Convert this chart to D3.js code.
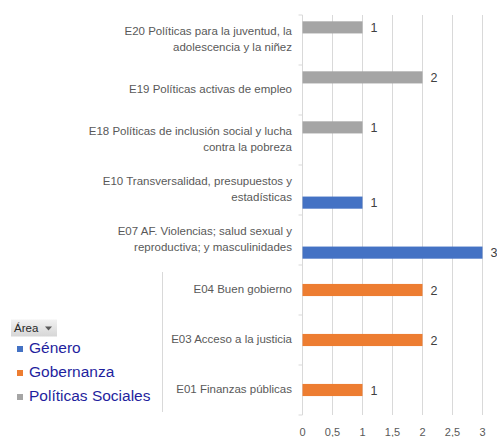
<!DOCTYPE html>
<html>
<head>
<meta charset="utf-8">
<script src="https://cdn.jsdelivr.net/npm/d3@7"></script>
<style>
  body { margin: 0; background: #fff; }
  svg { display: block; font-family: "Liberation Sans", Arial, sans-serif; }
</style>
</head>
<body>
<svg id="chart" width="497" height="437"></svg>
<script>
// categories top to bottom, label lines split by "|"
const categories = [
  "E20 Políticas para la juventud, la|adolescencia y  la niñez",
  "E19 Políticas activas de empleo",
  "E18 Políticas de inclusión social y lucha|contra la pobreza",
  "E10 Transversalidad, presupuestos y|estadísticas",
  "E07 AF. Violencias; salud sexual y|reproductiva; y masculinidades",
  "E04 Buen gobierno",
  "E03 Acceso a la justicia",
  "E01 Finanzas públicas"
];
const areaOf = ["Políticas Sociales", "Políticas Sociales", "Políticas Sociales",
  "Género", "Género", "Gobernanza", "Gobernanza", "Gobernanza"];
const values = [1, 2, 1, 1, 3, 2, 2, 1];
const series = ["Género", "Gobernanza", "Políticas Sociales"];
const seriesColors = ["#4472c4", "#ed7d31", "#a5a5a5"];
const xTicks = [0, 0.5, 1, 1.5, 2, 2.5, 3];

const svg = d3.select("#chart");

const x = d3.scaleLinear().domain([0, 3]).range([302.5, 482.5]);
const y = d3.scaleBand().domain(categories).range([15, 415]).padding(0);
// Excel puts series 1 at the bottom of each cluster
const sub = d3.scaleBand().domain(series.slice().reverse())
  .range([0, y.bandwidth()]).paddingOuter(0.5).paddingInner(0.04);
const color = d3.scaleOrdinal().domain(series).range(seriesColors);

// gridlines
svg.append("g")
  .selectAll("line")
  .data(xTicks.slice(1))
  .join("line")
  .attr("x1", d => x(d)).attr("x2", d => x(d))
  .attr("y1", 15).attr("y2", 415)
  .attr("stroke", "#d9d9d9")
  .attr("stroke-width", 1);

// x tick labels
svg.append("g")
  .selectAll("text")
  .data(xTicks)
  .join("text")
  .attr("x", d => x(d))
  .attr("y", 436)
  .attr("text-anchor", "middle")
  .attr("font-size", 11)
  .attr("fill", "#595959")
  .text(d => String(d).replace(".", ","));

// category axis line and boundary ticks
svg.append("line")
  .attr("x1", x(0)).attr("x2", x(0))
  .attr("y1", 15).attr("y2", 415)
  .attr("stroke", "#d9d9d9");
const bounds = categories.map(c => y(c)).concat([y.range()[1]]);
svg.append("g")
  .selectAll("line")
  .data(bounds)
  .join("line")
  .attr("x1", x(0) - 4).attr("x2", x(0))
  .attr("y1", d => d).attr("y2", d => d)
  .attr("stroke", "#d9d9d9");

// outer level separator next to the Gobernanza group
const gob = categories.filter((c, i) => areaOf[i] === "Gobernanza");
svg.append("line")
  .attr("x1", 162.5).attr("x2", 162.5)
  .attr("y1", y(gob[0]) + 7)
  .attr("y2", y(gob[gob.length - 1]) + y.bandwidth() - 3)
  .attr("stroke", "#d9d9d9");

// category labels
const labels = svg.append("g")
  .selectAll("text")
  .data(categories)
  .join("text")
  .attr("text-anchor", "end")
  .attr("font-size", 11.5)
  .attr("fill", "#595959");
labels.each(function (d) {
  const lines = d.split("|");
  const cy = y(d) + y.bandwidth() / 2 - 1;
  d3.select(this).selectAll("tspan")
    .data(lines)
    .join("tspan")
    .attr("x", 292)
    .attr("y", (l, i) => cy + (i - (lines.length - 1) / 2) * 15.5 + 4)
    .text(l => l);
});

// bars
const rows = categories.map((c, i) => ({ cat: c, area: areaOf[i], value: values[i] }));
svg.append("g")
  .selectAll("rect")
  .data(rows)
  .join("rect")
  .attr("x", x(0))
  .attr("y", d => y(d.cat) + sub(d.area))
  .attr("width", d => x(d.value) - x(0))
  .attr("height", sub.bandwidth())
  .attr("fill", d => color(d.area));

// value labels
svg.append("g")
  .selectAll("text")
  .data(rows)
  .join("text")
  .attr("x", d => x(d.value) + 8)
  .attr("y", d => y(d.cat) + sub(d.area) + sub.bandwidth() / 2 + 4.5)
  .attr("font-size", 12.5)
  .attr("fill", "#404040")
  .text(d => d.value);

// legend / field button
const grad = svg.append("defs").append("linearGradient")
  .attr("id", "btn").attr("x1", 0).attr("x2", 0).attr("y1", 0).attr("y2", 1);
grad.append("stop").attr("offset", "0%").attr("stop-color", "#f2f2f2");
grad.append("stop").attr("offset", "100%").attr("stop-color", "#d6d6d6");
svg.append("rect")
  .attr("x", 11).attr("y", 319.5).attr("width", 46).attr("height", 17)
  .attr("fill", "url(#btn)");
svg.append("text")
  .attr("x", 14).attr("y", 332)
  .attr("font-size", 11.5).attr("fill", "#262626")
  .text("Área");
svg.append("path")
  .attr("d", "M45,326.5 L52,326.5 L48.5,330.5 Z")
  .attr("fill", "#595959");

const legend = svg.append("g")
  .selectAll("g")
  .data(series)
  .join("g")
  .attr("transform", (d, i) => `translate(0,${353 + i * 24})`);
legend.append("rect")
  .attr("x", 17).attr("y", -7).attr("width", 6).attr("height", 6)
  .attr("fill", d => color(d));
legend.append("text")
  .attr("x", 29).attr("y", 0)
  .attr("font-size", 15.5)
  .attr("fill", "#1f1f9e")
  .text(d => d);
</script>
</body>
</html>
